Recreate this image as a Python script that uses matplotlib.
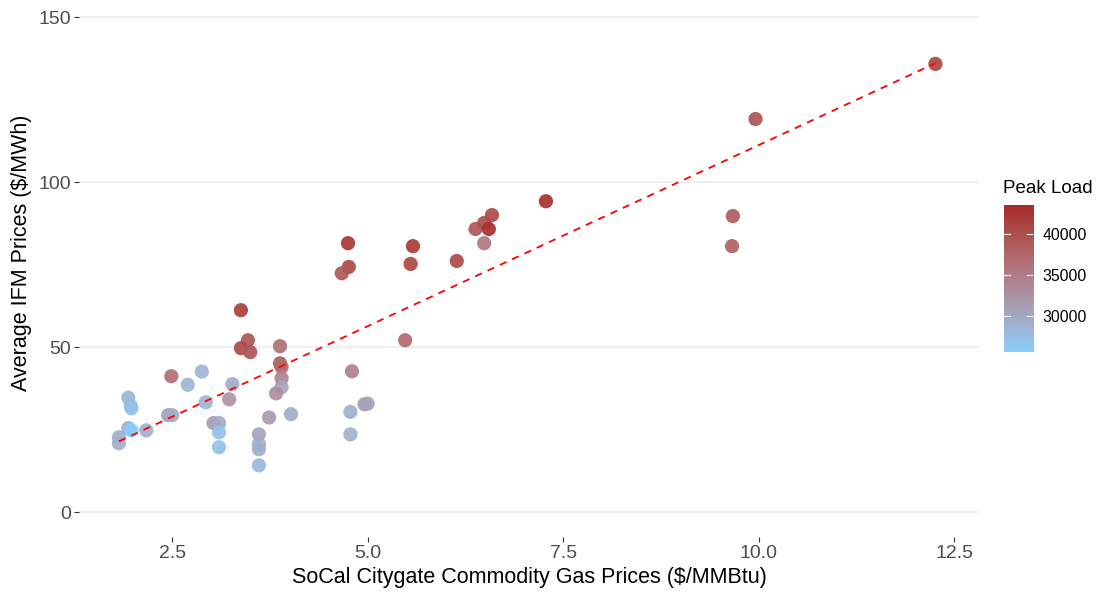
import numpy as np
import matplotlib
matplotlib.use("Agg")
from matplotlib import pyplot as plt
from matplotlib.colors import ListedColormap, Normalize

plt.rcParams["font.family"] = ["Liberation Sans", "DejaVu Sans"]

# values
gas_price = [
    1.82, 1.82, 1.94, 1.97, 1.98, 1.94, 1.98, 2.17, 2.45, 2.50,
    2.49, 2.88, 2.70, 2.93, 3.27, 3.23, 3.03, 3.10, 3.10, 3.10,
    3.38, 3.47, 3.38, 3.50, 3.88, 3.88, 3.90, 3.90, 3.90, 3.83,
    3.74, 4.02, 3.61, 3.61, 3.61, 3.61, 5.48, 4.80, 4.96, 5.00,
    4.78, 4.78, 4.75, 4.76, 4.67, 5.58, 5.55, 6.14, 6.38, 6.49,
    6.59, 6.55, 6.49, 7.28, 9.67, 9.66, 9.96, 12.26,
]
ifm_price = [
    20.9, 22.7, 34.7, 32.3, 31.5, 25.5, 24.8, 24.8, 29.4, 29.4,
    41.2, 42.6, 38.6, 33.3, 38.8, 34.2, 27.0, 27.0, 24.2, 19.7,
    61.2, 52.1, 49.7, 48.5, 50.3, 45.1, 44.0, 40.6, 37.9, 36.0,
    28.7, 29.7, 23.6, 20.6, 19.1, 14.2, 52.1, 42.7, 32.7, 32.9,
    30.4, 23.6, 81.5, 74.3, 72.4, 80.6, 75.2, 76.1, 85.8, 87.6,
    90.0, 85.8, 81.5, 94.2, 89.7, 80.6, 119.1, 135.8,
]
peak_load = [
    29200, 29000, 28300, 27800, 27000, 28800, 25800, 29300, 30800, 29800,
    36500, 28500, 28600, 28700, 29500, 32500, 31500, 29800, 27200, 27200,
    41500, 39000, 40500, 39500, 36500, 38500, 37000, 34000, 30500, 33000,
    31500, 29500, 30500, 29500, 29200, 28000, 37000, 34500, 31500, 30500,
    29000, 28800, 42500, 40500, 39000, 42000, 41000, 40500, 39000, 40000,
    40500, 43000, 35500, 43000, 38500, 38000, 39500, 41000,
]
fit_slope = 10.97
fit_intercept = 1.5
load_ticks = [30000, 35000, 40000]
load_range = (25600, 43500)


def srgb_to_lab(rgb):
    c = np.asarray(rgb, dtype=float)
    lin = np.where(c <= 0.04045, c / 12.92, ((c + 0.055) / 1.055) ** 2.4)
    m = np.array([[0.4124, 0.3576, 0.1805], [0.2126, 0.7152, 0.0722], [0.0193, 0.1192, 0.9505]])
    xyz = lin @ m.T / np.array([0.95047, 1.0, 1.08883])
    d = 6 / 29
    f = np.where(xyz > d ** 3, np.cbrt(xyz), xyz / (3 * d * d) + 4 / 29)
    return np.stack([116 * f[..., 1] - 16, 500 * (f[..., 0] - f[..., 1]), 200 * (f[..., 1] - f[..., 2])], axis=-1)


def lab_to_srgb(lab):
    lab = np.asarray(lab, dtype=float)
    fy = (lab[..., 0] + 16) / 116
    fx = fy + lab[..., 1] / 500
    fz = fy - lab[..., 2] / 200
    d = 6 / 29
    f = np.stack([fx, fy, fz], axis=-1)
    xyz = np.where(f > d, f ** 3, 3 * d * d * (f - 4 / 29)) * np.array([0.95047, 1.0, 1.08883])
    minv = np.linalg.inv(np.array([[0.4124, 0.3576, 0.1805], [0.2126, 0.7152, 0.0722], [0.0193, 0.1192, 0.9505]]))
    lin = np.clip(xyz @ minv.T, 0, 1)
    return np.where(lin <= 0.0031308, lin * 12.92, 1.055 * lin ** (1 / 2.4) - 0.055)


# ggplot-like gradient, interpolated in Lab
lo = srgb_to_lab([135 / 255, 206 / 255, 250 / 255])
hi = srgb_to_lab([165 / 255, 42 / 255, 42 / 255])
t = np.linspace(0, 1, 256)[:, None]
cmap = ListedColormap(np.clip(lab_to_srgb(lo + (hi - lo) * t), 0, 1))
norm = Normalize(*load_range)

fig = plt.figure(figsize=(10.99, 5.92), dpi=100)
ax = fig.add_axes([0.0719, 0.0929, 0.8191, 0.9071])

ax.set_xlim(1.31, 12.82)
ax.set_ylim(-7.5, 155.15)
ax.set_yticks([0, 50, 100, 150])
ax.set_xticks([2.5, 5.0, 7.5, 10.0, 12.5])
ax.set_xticklabels(["2.5", "5.0", "7.5", "10.0", "12.5"])
ax.grid(axis="y", color="#EBEBEB", linewidth=1.1)
ax.set_axisbelow(True)
for s in ax.spines.values():
    s.set_visible(False)
ax.tick_params(axis="both", length=3.5, width=0.8, color="#333333",
               labelcolor="#4D4D4D", labelsize=14, pad=2)

ax.scatter(gas_price, ifm_price, c=peak_load, cmap=cmap, norm=norm,
           s=105, alpha=0.92, edgecolors="none", zorder=3)

xs = np.array([min(gas_price), max(gas_price)])
ax.plot(xs, fit_intercept + fit_slope * xs, color="red", lw=1.3,
        linestyle=(0, (4, 3.5)), zorder=4)

ax.set_xlabel("SoCal Citygate Commodity Gas Prices ($/MMBtu)", fontsize=15.5, labelpad=4)
ax.set_ylabel("Average IFM Prices ($/MWh)", fontsize=15.5)
ax.yaxis.set_label_coords(-0.052, 0.53)

# colour bar
cax = fig.add_axes([0.9136, 0.4054, 0.0264, 0.2483])
grad = np.linspace(load_range[0], load_range[1], 256)[:, None]
cax.imshow(grad, aspect="auto", origin="lower", cmap=cmap, norm=norm,
           extent=[0, 1, load_range[0], load_range[1]])
cax.set_xlim(0, 1)
cax.set_ylim(*load_range)
cax.set_xticks([])
cax.set_yticks(load_ticks)
cax.yaxis.tick_right()
cax.tick_params(axis="y", length=0, labelsize=11.3, labelcolor="black", pad=7)
for s in cax.spines.values():
    s.set_visible(False)
for v in load_ticks:
    cax.plot([0, 0.2], [v, v], color="white", lw=0.8)
    cax.plot([0.8, 1], [v, v], color="white", lw=0.8)
fig.text(0.9127, 0.674, "Peak Load", fontsize=13.5, ha="left", va="baseline")

fig.savefig("out.png", dpi=100)
